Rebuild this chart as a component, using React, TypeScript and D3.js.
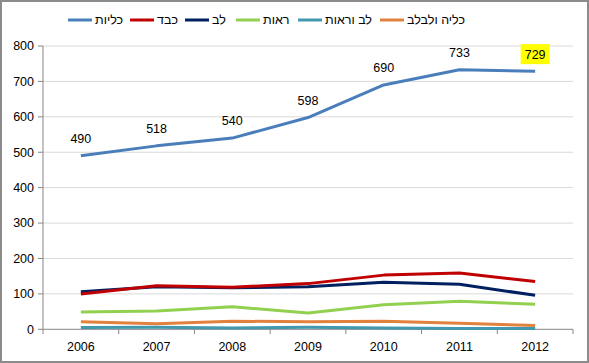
import React from 'react';
import * as d3 from 'd3';

const years = ['2006', '2007', '2008', '2009', '2010', '2011', '2012'];
const kidneys = [490, 518, 540, 598, 690, 733, 729];
const liver = [100, 123, 119, 129, 153, 159, 135];
const heart = [106, 120, 117, 120, 133, 127, 96];
const lungs = [49, 52, 64, 46, 69, 79, 71];
const heartLungs = [5, 6, 4, 6, 4, 2, 2];
const kidneyPancreas = [21, 16, 23, 21, 23, 17, 11];
const yTicks = [0, 100, 200, 300, 400, 500, 600, 700, 800];

const series = [
  { name: 'כליות', values: kidneys, color: '#4A7EBB' },
  { name: 'כבד', values: liver, color: '#C00000' },
  { name: 'לב', values: heart, color: '#002060' },
  { name: 'ראות', values: lungs, color: '#92D050' },
  { name: 'לב וראות', values: heartLungs, color: '#4198AF' },
  { name: 'כליה ולבלב', values: kidneyPancreas, color: '#E0823E' },
];

// legend x positions (line start) per item
const legendX = [68, 130, 185, 236, 298, 380];

const W = 589;
const H = 363;
const font = '"Liberation Sans", Arial, sans-serif';

export default function App() {
  const x = d3.scaleBand().domain(years).range([43, 573]);
  const y = d3.scaleLinear().domain([0, 800]).range([329.3, 46]);
  const line = d3.line<number>()
    .x((_, i) => x(years[i])! + x.bandwidth() / 2)
    .y(d => y(d));

  const last = kidneys.length - 1;

  return (
    <svg width={W} height={H} style={{ position: 'absolute', left: 0, top: 0 }} fontFamily={font}>
      <rect x={0} y={0} width={W} height={H} fill="#fff" />
      <rect x={1} y={1} width={W - 2} height={H - 2} fill="none" stroke="#8c8c8c" strokeWidth={2} />

      {yTicks.map(t => (
        <g key={t}>
          {t > 0 && <line x1={43} x2={573} y1={y(t)} y2={y(t)} stroke="#d9d9d9" strokeWidth={1} />}
          <line x1={38} x2={43} y1={y(t)} y2={y(t)} stroke="#868686" />
          <text x={34} y={y(t)} dy="0.35em" textAnchor="end" fontSize={12.5} fill="#000">{t}</text>
        </g>
      ))}

      <line x1={43} x2={43} y1={46} y2={329.3} stroke="#868686" />
      <line x1={43} x2={573} y1={329.3} y2={329.3} stroke="#868686" />
      {[...years.map(d => x(d)!), 573].map((px, i) => (
        <line key={i} x1={px} x2={px} y1={329.3} y2={334} stroke="#868686" />
      ))}
      {years.map(d => (
        <text key={d} x={x(d)! + x.bandwidth() / 2} y={347} dy="0.35em" textAnchor="middle" fontSize={12.5} fill="#000">{d}</text>
      ))}

      {series.slice().reverse().map(s => (
        <path key={s.name} d={line(s.values)!} fill="none" stroke={s.color} strokeWidth={3} strokeLinejoin="round" />
      ))}

      {kidneys.map((v, i) => {
        const cx = x(years[i])! + x.bandwidth() / 2;
        const cy = y(v) - 17;
        return (
          <g key={i}>
            {i === last && <rect x={cx - 14.5} y={cy - 10} width={29} height={20} fill="#ffff00" />}
            <text x={cx} y={cy} dy="0.35em" textAnchor="middle" fontSize={12.5} fill="#000">{v}</text>
          </g>
        );
      })}

      {series.map((s, i) => (
        <g key={s.name}>
          <line x1={legendX[i]} x2={legendX[i] + 24} y1={20} y2={20} stroke={s.color} strokeWidth={3} />
          <text x={legendX[i] + 27} y={20} dy="0.35em" textAnchor="start" fontSize={12.5} fill="#000">{s.name}</text>
        </g>
      ))}
    </svg>
  );
}
